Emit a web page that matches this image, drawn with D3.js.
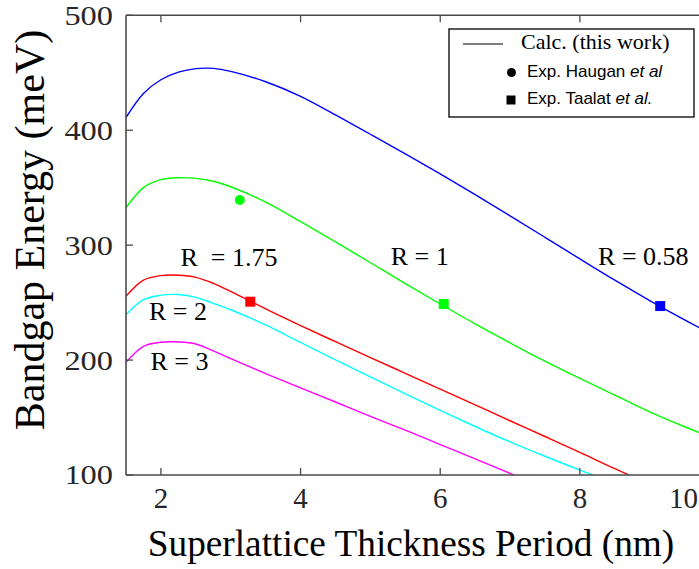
<!DOCTYPE html>
<html><head><meta charset="utf-8">
<script src="https://cdn.jsdelivr.net/npm/d3@7"></script>
<style>body{margin:0;background:#fff}svg{display:block}</style>
</head><body><svg id="c" width="699" height="569"></svg>
<script>
// ---- data ----
const periods = [1.5,1.75,2,2.25,2.5,2.75,3,3.5,4,4.5,5,5.5,6,6.5,7,7.5,8,8.5,9,9.5,10];
const seriesNames = ["R = 0.58","R = 1","R  = 1.75","R = 2","R = 3"];
const energyR058 = [411,431.9,443.9,450.5,453.6,453.8,451.2,442.2,429.5,413.3,396.5,379.5,362,344,325.5,306.8,288,269.5,251.8,235,219];
const energyR1   = [332.5,350.1,357,358.7,358.1,355.6,350.8,337.4,320.5,302.8,284.7,266.6,248.8,231.5,215,199,184,169.6,155,142,130];
const energyR175 = [255.5,269.5,273.5,273.8,272,266.8,259.8,244.5,230,216,202.2,188.5,174.8,161,147.2,133.5,119.7,105.5,92,null,null];
const energyR2   = [239.5,252.5,256.5,257,254.6,249.4,243.8,230.6,215.3,200.2,185.3,170.6,156.2,142.2,128.8,116.3,104.3,93,null,null,null];
const energyR3   = [198,212,215.5,215.7,214,208,201.3,188.3,175.8,163.5,151,139,126.5,114,101.5,89,null,null,null,null,null];
const hauganX = [3.13], hauganY = [339.3];
const taalatX = [3.28, 6.05, 9.15], taalatY = [250.8, 248.8, 247];
const xTicks = [2,4,6,8,10];
const yTicks = [100,200,300,400,500];
// annotation anchor points (data units)
const labelX = [8.26, 5.29, 2.28, 1.83, 1.85];
const labelY = [282.7, 282.7, 281.8, 234.9, 191.4];
const legendLabels = ["Calc. (this work)", "Exp. Haugan ", "Exp. Taalat "];
const legendItalic = ["", "et al", "et al."];

// ---- style ----
const colors = ["#0000ff","#00ff00","#ff0000","#00ffff","#ff00ff"];
const seriesData = [energyR058, energyR1, energyR175, energyR2, energyR3];
const tauColors = ["#ff0000","#00ff00","#0000ff"];
const W = 699, H = 569;
const L = 126, T = 15.3, B = 475;
const serif = "'Liberation Serif','Times New Roman',serif";
const sans = "'Liberation Sans',Arial,sans-serif";

const svg = d3.select("#c");
const x = d3.scaleLinear().domain([1.5, 10]).range([L, L + 8.5 * 69.83]);
const y = d3.scaleLinear().domain([100, 500]).range([B, T]);

svg.append("defs").append("clipPath").attr("id","clip")
  .append("rect").attr("x", L).attr("y", T).attr("width", W - L).attr("height", B - T);

const plot = svg.append("g").attr("clip-path","url(#clip)");
const line = d3.line().defined(d => d[1] != null).x(d => x(d[0])).y(d => y(d[1])).curve(d3.curveCatmullRom.alpha(0.5));
seriesData.forEach((s, i) => {
  plot.append("path").datum(periods.map((p, j) => [p, s[j]]))
    .attr("d", line).attr("fill","none").attr("stroke", colors[i]).attr("stroke-width", 1.4);
});
plot.selectAll("circle.h").data(hauganX).enter().append("circle")
  .attr("cx", (d) => x(d)).attr("cy", (d, i) => y(hauganY[i])).attr("r", 5).attr("fill", "#00ff00");
plot.selectAll("rect.t").data(taalatX).enter().append("rect")
  .attr("x", d => x(d) - 5).attr("y", (d, i) => y(taalatY[i]) - 5).attr("width", 10).attr("height", 10)
  .attr("fill", (d, i) => tauColors[i]);

// axes
const axCol = "#4a4a4a";
const ax = svg.append("g");
ax.append("line").attr("x1", L).attr("x2", L).attr("y1", T).attr("y2", B).attr("stroke", axCol).attr("stroke-width", 1.6);
ax.append("line").attr("x1", L).attr("x2", W).attr("y1", B).attr("y2", B).attr("stroke", axCol).attr("stroke-width", 1.6);
ax.append("line").attr("x1", L).attr("x2", W).attr("y1", T).attr("y2", T).attr("stroke", axCol).attr("stroke-width", 1.6);
xTicks.forEach(v => {
  if (x(v) < W) {
    ax.append("line").attr("x1", x(v)).attr("x2", x(v)).attr("y1", B).attr("y2", B - 7).attr("stroke", axCol).attr("stroke-width", 1.3);
    ax.append("line").attr("x1", x(v)).attr("x2", x(v)).attr("y1", T).attr("y2", T + 7).attr("stroke", axCol).attr("stroke-width", 1.3);
  }
  const t = ax.append("text").text(v).attr("y", 507.5).attr("text-anchor","middle")
    .attr("font-family", serif).attr("font-size", 29).attr("fill", "#262626");
  const w = t.node().getComputedTextLength();
  t.attr("x", Math.min(x(v), W - w / 2 - 1));
});
yTicks.forEach(v => {
  ax.append("line").attr("x1", L).attr("x2", L + 7).attr("y1", y(v)).attr("y2", y(v)).attr("stroke", axCol).attr("stroke-width", 1.3);
  ax.append("text").text(v).attr("transform", `translate(113,${y(v)}) scale(1.2,1)`).attr("dy", "0.35em").attr("text-anchor","end")
    .attr("font-family", serif).attr("font-size", 27).attr("fill", "#262626");
});
svg.append("text").text("Superlattice Thickness Period (nm)").attr("x", 411).attr("y", 556)
  .attr("text-anchor","middle").attr("font-family", serif).attr("font-size", 37.3).attr("fill","#000");
svg.append("text").text("Bandgap Energy (meV)").attr("transform","translate(44,230) rotate(-90)")
  .attr("text-anchor","middle").attr("font-family", serif).attr("font-size", 42).attr("fill","#000");

// annotations
seriesNames.forEach((n, i) => {
  svg.append("text").text(n).attr("x", x(labelX[i])).attr("y", y(labelY[i]))
    .attr("font-family", serif).attr("font-size", 26).attr("fill","#000").style("white-space","pre");
});

// legend
const lg = svg.append("g");
lg.append("rect").attr("x", 449).attr("y", 29).attr("width", 245).attr("height", 88)
  .attr("fill","#fff").attr("stroke","#000").attr("stroke-width", 1.3);
lg.append("line").attr("x1", 463).attr("x2", 503).attr("y1", 44).attr("y2", 44).attr("stroke","#000").attr("stroke-width", 1.2);
lg.append("text").text(legendLabels[0]).attr("x", 521).attr("y", 48.5)
  .attr("font-family", serif).attr("font-size", 22).attr("fill","#000");
lg.append("circle").attr("cx", 511.5).attr("cy", 72.5).attr("r", 4.5).attr("fill","#000");
lg.append("rect").attr("x", 506.5).attr("y", 95.5).attr("width", 9).attr("height", 9).attr("fill","#000");
[1, 2].forEach((k, j) => {
  const t = lg.append("text").attr("x", 527).attr("y", j === 0 ? 77 : 103.5)
    .attr("font-family", sans).attr("font-size", 17).attr("fill","#000");
  t.append("tspan").text(legendLabels[k]).style("white-space","pre");
  t.append("tspan").text(legendItalic[k]).attr("font-style","italic");
});
</script></body></html>
